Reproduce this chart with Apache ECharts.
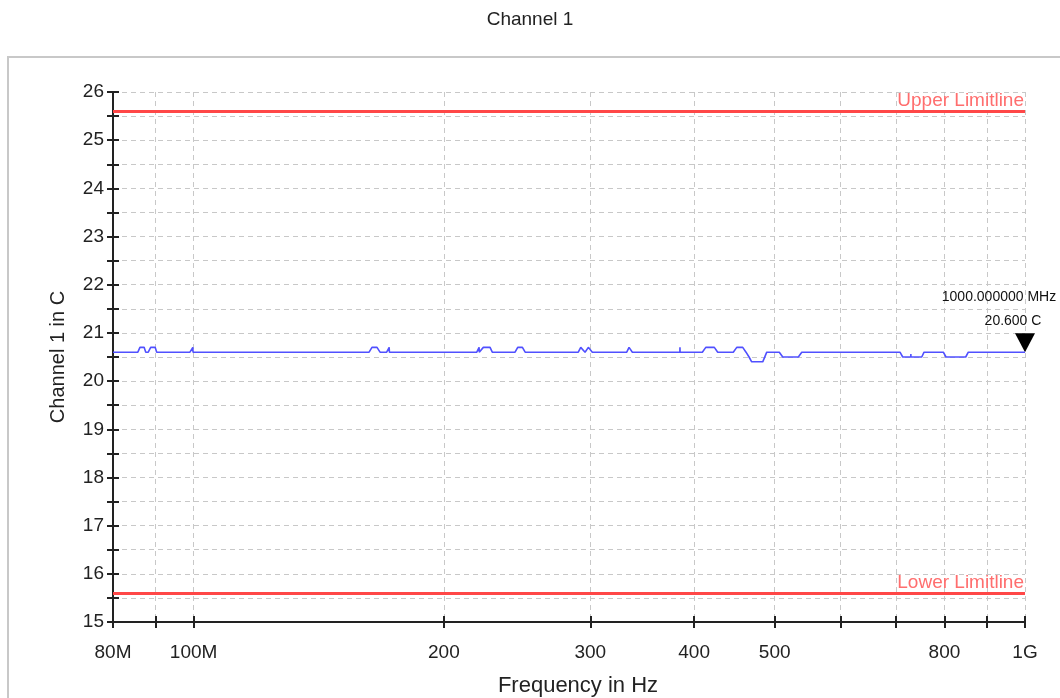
<!DOCTYPE html>
<html><head><meta charset="utf-8">
<script src="https://cdn.jsdelivr.net/npm/echarts@6.0.0/dist/echarts.min.js"></script>
<style>html,body{margin:0;padding:0;background:#fff}#chart{width:1060px;height:698px}</style>
</head><body><div id="chart"></div>
<script>
// ---- data (frequency in MHz, level in C) ----
const freqMHz = [80, 85.7, 86.2, 87.2, 87.6, 88.2, 88.8, 89.9, 90.3, 99.0, 99.8, 99.85,
  162.6, 163.9, 166.2, 167.6, 170.7, 171.9, 172.0,
  219.1, 220.5, 220.6, 221.5, 223.1, 227.3, 228.7,
  243.6, 245.4, 248.6, 250.5,
  290.2, 292.2, 293.5, 295.7, 296.2, 298.4, 299.8, 301.7,
  331.9, 334.0, 335.0, 337.1,
  384.5, 384.6, 384.7,
  409.2, 413.1, 423.0, 427.0,
  445.8, 450.1, 457.6, 461.8, 465.7, 469.1, 483.7, 489.1,
  506.4, 511.2, 533.8, 538.9,
  707.4, 712.7, 728.9, 729.0, 729.1, 751.3, 756.1,
  797.6, 803.5, 848.6, 854.7, 1000];
const levelC = [20.6, 20.6, 20.7, 20.7, 20.6, 20.6, 20.7, 20.7, 20.6, 20.6, 20.7, 20.6,
  20.6, 20.7, 20.7, 20.6, 20.6, 20.7, 20.6,
  20.6, 20.7, 20.6, 20.6, 20.7, 20.7, 20.6,
  20.6, 20.7, 20.7, 20.6,
  20.6, 20.7, 20.7, 20.6, 20.6, 20.7, 20.7, 20.6,
  20.6, 20.7, 20.7, 20.6,
  20.6, 20.7, 20.6,
  20.6, 20.7, 20.7, 20.6,
  20.6, 20.7, 20.7, 20.6, 20.5, 20.4, 20.4, 20.6,
  20.6, 20.5, 20.5, 20.6,
  20.6, 20.5, 20.5, 20.56, 20.5, 20.5, 20.6,
  20.6, 20.5, 20.5, 20.6, 20.6];
const xTickFreqs = [80, 90, 100, 200, 300, 400, 500, 600, 700, 800, 900, 1000];
const xLabelFreqs = [80, 100, 200, 300, 400, 500, 800, 1000];
const xLabelText = ['80M', '100M', '200', '300', '400', '500', '800', '1G'];
const yMin = 15, yMax = 26, yStep = 1;
const limitValues = [25.6, 15.6];
const limitNames = ['Upper Limitline', 'Lower Limitline'];
const markerFreq = 1000;
const markerValue = 20.6;

// ---- build ----
const lg = Math.log10;
const FONT = 'Liberation Sans';
const seriesData = freqMHz.map((f, i) => [lg(f), levelC[i]]);
const tickVals = xTickFreqs.map(lg);
const labelVals = xLabelFreqs.map(lg);
const fmtX = v => {
  const f = Math.round(Math.pow(10, v));
  const i = xLabelFreqs.indexOf(f);
  return i >= 0 ? xLabelText[i] : '';
};
const axisColor = '#222';
const gridColor = '#c8c8c8';

const chart = echarts.init(document.getElementById('chart'), null, {renderer: 'canvas'});
chart.setOption({
  animation: false,
  backgroundColor: '#fff',
  title: {
    text: 'Channel 1', left: 'center', top: 5,
    textStyle: {fontFamily: FONT, fontSize: 19, fontWeight: 'normal', color: '#222'}
  },
  graphic: [{
    type: 'rect', z: -10, silent: true,
    shape: {x: 8, y: 57, width: 1100, height: 700},
    style: {fill: 'none', stroke: '#c8c8c8', lineWidth: 2}
  }],
  grid: {left: 113, right: 35, top: 92, bottom: 76, containLabel: false, outerBoundsMode: 'none'},
  xAxis: [{
    type: 'value', min: lg(80), max: 3, position: 'bottom',
    name: 'Frequency in Hz', nameLocation: 'middle', nameGap: 53,
    nameTextStyle: {fontFamily: FONT, fontSize: 22, color: '#222', padding: [0, 0, 0, 18]},
    axisLine: {show: true, onZero: false, lineStyle: {color: axisColor, width: 2}},
    axisTick: {show: true, customValues: tickVals, length: 6, lineStyle: {color: axisColor, width: 2}},
    axisLabel: {customValues: labelVals, formatter: fmtX, margin: 21,
      fontFamily: FONT, fontSize: 19, color: '#222'},
    splitLine: {show: true, lineStyle: {color: gridColor, type: [5, 4], width: 1}}
  }, {
    type: 'value', min: lg(80), max: 3, position: 'bottom', gridIndex: 0,
    axisLine: {show: false, onZero: false},
    axisTick: {show: true, inside: true, customValues: tickVals, length: 6, lineStyle: {color: axisColor, width: 2}},
    axisLabel: {show: false},
    splitLine: {show: false}
  }],
  yAxis: [{
    type: 'value', min: yMin, max: yMax, interval: yStep, position: 'left',
    name: 'Channel 1 in C', nameLocation: 'middle', nameGap: 45,
    nameTextStyle: {fontFamily: FONT, fontSize: 20, color: '#222'},
    axisLine: {show: true, onZero: false, lineStyle: {color: axisColor, width: 2}},
    axisTick: {show: true, length: 6, lineStyle: {color: axisColor, width: 2}},
    minorTick: {show: true, splitNumber: 2, length: 6, lineStyle: {color: axisColor, width: 2}},
    axisLabel: {margin: 9, fontFamily: FONT, fontSize: 19, color: '#222'},
    splitLine: {show: true, lineStyle: {color: gridColor, type: [5, 4], width: 1}},
    minorSplitLine: {show: true, lineStyle: {color: gridColor, type: [5, 4], width: 1}}
  }, {
    type: 'value', min: yMin, max: yMax, interval: yStep, position: 'left',
    axisLine: {show: false, onZero: false},
    axisTick: {show: true, inside: true, length: 6, lineStyle: {color: axisColor, width: 2}},
    minorTick: {show: true, splitNumber: 2, length: 6, lineStyle: {color: axisColor, width: 2}},
    axisLabel: {show: false},
    splitLine: {show: false}
  }],
  series: [{
    type: 'line', name: 'Channel 1', xAxisIndex: 0, yAxisIndex: 0,
    data: seriesData, showSymbol: false, symbol: 'none',
    lineStyle: {color: '#5050ff', width: 1.6},
    z: 5,
    markLine: {
      silent: true, symbol: 'none', animation: false,
      lineStyle: {color: '#ff4747', width: 3, type: 'solid'},
      label: {show: true, position: 'insideEndTop', formatter: '{b}', distance: 1,
        fontFamily: FONT, fontSize: 19, color: '#ff6e6e'},
      data: limitValues.map((v, i) => ({yAxis: v, name: limitNames[i]}))
    },
    markPoint: {
      silent: true, animation: false,
      symbol: 'path://M0,0L20,0L10,19Z', symbolSize: [20, 19], symbolOffset: [0, -9.5],
      itemStyle: {color: '#000'},
      label: {
        show: true, position: 'top', distance: 0, offset: [-26, 0],
        formatter: '{a|' + markerFreq.toFixed(6) + ' MHz}\n{b|' + markerValue.toFixed(3) + ' C}',
        rich: {
          a: {fontFamily: FONT, fontSize: 14, lineHeight: 24, color: '#111'},
          b: {fontFamily: FONT, fontSize: 14, lineHeight: 24, color: '#111', padding: [0, 0, 0, 28]}
        }
      },
      data: [{coord: [lg(markerFreq), markerValue]}]
    }
  }]
});
</script>
</body></html>
